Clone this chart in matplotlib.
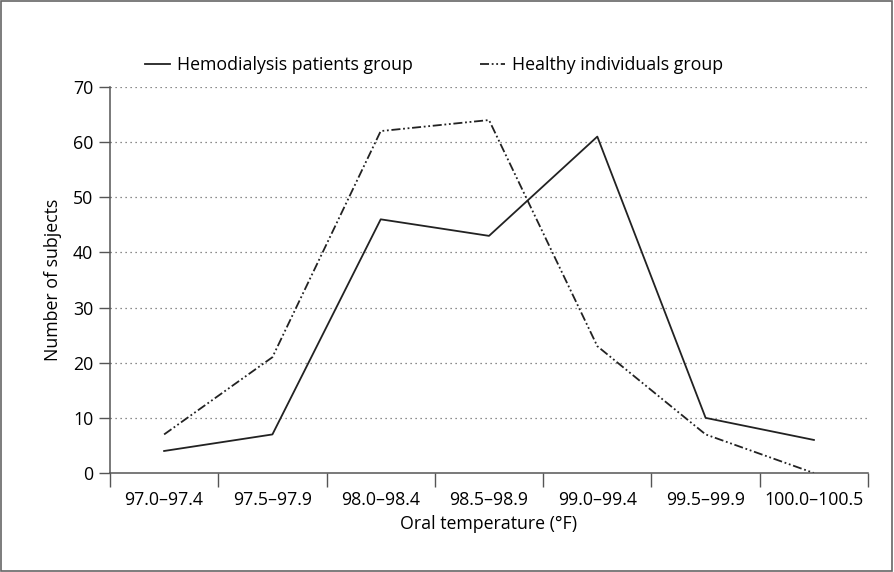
import matplotlib
matplotlib.use("Agg")
import matplotlib.pyplot as plt
from matplotlib.patches import Rectangle

# temperature bins and counts
categories = ["97.0\u201397.4", "97.5\u201397.9", "98.0\u201398.4", "98.5\u201398.9",
              "99.0\u201399.4", "99.5\u201399.9", "100.0\u2013100.5"]
hemodialysis = [4, 7, 46, 43, 61, 10, 6]
healthy = [7, 21, 62, 64, 23, 7, 0]
yticks = [0, 10, 20, 30, 40, 50, 60, 70]

plt.rcParams["font.family"] = ["Open Sans", "DejaVu Sans"]
plt.rcParams["font.size"] = 12.8

fig = plt.figure(figsize=(8.94, 5.72), dpi=100)
ax = fig.add_axes([0.123, 0.173, 0.848, 0.675])

x = range(len(categories))
dashdotdot = (0, (5, 1.5, 1, 1.5, 1, 1.5))
ax.plot(x, hemodialysis, color="#222222", lw=1.3, label="Hemodialysis patients group")
ax.plot(x, healthy, color="#222222", lw=1.3, linestyle=dashdotdot,
        label="Healthy individuals group")

ax.set_xlim(-0.5, len(categories) - 0.5)
ax.set_ylim(0, 70)
ax.set_yticks(yticks)
for y in yticks[1:]:
    ax.axhline(y, color="#666666", lw=0.9, linestyle=(0, (1, 3)), zorder=0)

# ticks on bin edges, labels at bin centers
ax.set_xticks([i - 0.5 for i in range(len(categories) + 1)])
ax.set_xticklabels([])
ax.set_xticks(list(x), minor=True)
ax.set_xticklabels(categories, minor=True)
ax.tick_params(axis="x", which="major", length=10, width=1, color="#555555")
ax.tick_params(axis="x", which="minor", length=0, pad=13)
ax.tick_params(axis="y", length=8, width=1, color="#555555", pad=4)

for s in ["top", "right"]:
    ax.spines[s].set_visible(False)
for s in ["left", "bottom"]:
    ax.spines[s].set_color("#555555")
    ax.spines[s].set_linewidth(1.1)

ax.set_xlabel("Oral temperature (\u00b0F)", labelpad=4)
ax.set_ylabel("Number of subjects", labelpad=8)

leg = ax.legend(loc="lower left", bbox_to_anchor=(0.046, 1.034), ncol=2, frameon=False,
                handlelength=1.4, handletextpad=0.4, columnspacing=3.8, borderaxespad=0,
                borderpad=0, fontsize=12.8)

fig.patches.append(Rectangle((0.001, 0.001), 0.997, 0.997, transform=fig.transFigure,
                             fill=False, edgecolor="#666666", lw=1.2))

fig.savefig("out.png", dpi=100)
